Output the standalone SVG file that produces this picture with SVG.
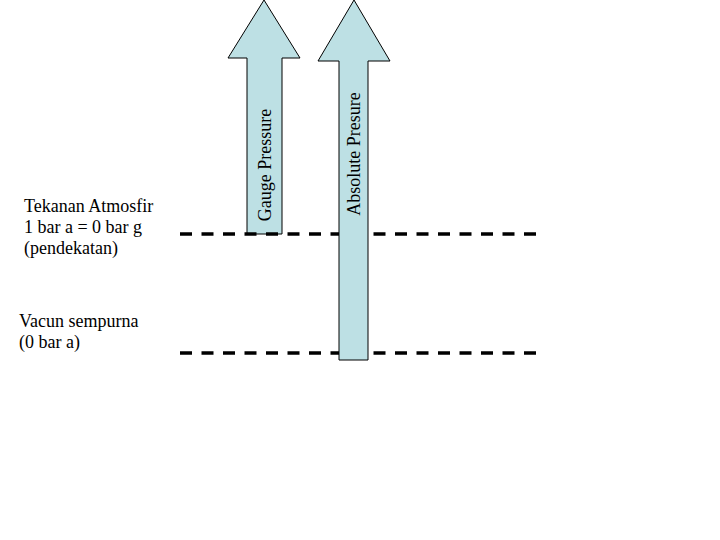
<svg xmlns="http://www.w3.org/2000/svg" width="720" height="540" viewBox="0 0 720 540">
<style>
.arrow{fill:#bde0e4;stroke:#000;stroke-width:1}
.dash{stroke:#000;stroke-width:3.5;stroke-dasharray:12 9.5;fill:none}
text{font-family:"Liberation Serif","Times New Roman",serif;font-size:18px;fill:#000}
</style>
<rect width="720" height="540" fill="#fff"/>
<g id="gauge">
<polygon class="arrow" points="264,0 300,58 282,58 282,234 247,234 247,58 228,58"/>
<text x="0" y="0" text-anchor="middle" transform="translate(271,165) rotate(-90)">Gauge Pressure</text>
</g>
<g id="connectors">
<line class="dash" x1="180" y1="234" x2="540" y2="234"/>
<line class="dash" x1="180" y1="353" x2="540" y2="353"/>
</g>
<g id="absolute">
<polygon class="arrow" points="354,0 390,61 368,61 368,360 339,360 339,61 318,61"/>
<text x="0" y="0" text-anchor="middle" transform="translate(360,154) rotate(-90)">Absolute Presure</text>
</g>
<g id="atm">
<text x="24" y="212">Tekanan Atmosfir</text>
<text x="24" y="233">1 bar a = 0 bar g</text>
<text x="24" y="254">(pendekatan)</text>
</g>
<g id="vacuum">
<text x="19" y="327">Vacun sempurna</text>
<text x="19" y="348">(0 bar a)</text>
</g>
</svg>
